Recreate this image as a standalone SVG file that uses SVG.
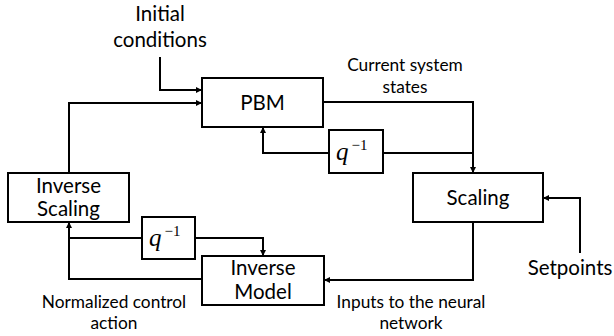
<svg xmlns="http://www.w3.org/2000/svg" width="614" height="336" viewBox="0 0 614 336">
  <style>
    .box { fill: #ffffff; stroke: #000000; stroke-width: 2; }
    .wire { fill: none; stroke: #000000; stroke-width: 2; }
    .lbl { font-family: Lato, "Open Sans", sans-serif; fill: #000000; text-anchor: middle; }
    .big { font-size: 20.5px; }
    .small { font-size: 17.3px; }
    .delay { font-family: "Liberation Serif", "DejaVu Serif", serif; font-style: italic; font-size: 25px; }
    .exp { font-family: "Liberation Serif", "DejaVu Serif", serif; font-size: 15px; font-style: normal; }
  </style>
  <defs>
    <marker id="arrow" viewBox="0 0 10 10" refX="10" refY="5" markerWidth="6" markerHeight="6" markerUnits="userSpaceOnUse" orient="auto">
      <path d="M0,0 L10,5 L0,10 z" fill="#000000"/>
    </marker>
  </defs>

  <!-- free-standing labels -->
  <text class="lbl big" x="160" y="21">Initial</text>
  <text class="lbl big" x="160" y="47">conditions</text>
  <text class="lbl small" x="405" y="71">Current system</text>
  <text class="lbl small" x="405" y="93">states</text>
  <text class="lbl big" x="570" y="275">Setpoints</text>
  <text class="lbl small" x="114" y="308">Normalized control</text>
  <text class="lbl small" x="114" y="329">action</text>
  <text class="lbl small" x="411" y="308">Inputs to the neural</text>
  <text class="lbl small" x="411" y="329">network</text>

  <!-- connectors -->
  <g id="connectors">
    <path class="wire" d="M160,57 V90 H202" marker-end="url(#arrow)"/>
    <path class="wire" d="M69,173 V103 H202" marker-end="url(#arrow)"/>
    <path class="wire" d="M323,102 H473 V173" marker-end="url(#arrow)"/>
    <path class="wire" d="M473,153 H383"/>
    <path class="wire" d="M329,153 H263 V127" marker-end="url(#arrow)"/>
    <path class="wire" d="M580,253 V198 H543" marker-end="url(#arrow)"/>
    <path class="wire" d="M473,222 V280 H324" marker-end="url(#arrow)"/>
    <path class="wire" d="M202,279 H69 V222" marker-end="url(#arrow)"/>
    <path class="wire" d="M69,238 H142"/>
    <path class="wire" d="M195,238 H263 V256" marker-end="url(#arrow)"/>
  </g>

  <!-- nodes -->
  <g id="pbm">
    <rect class="box" x="202" y="78" width="121" height="49"/>
    <text class="lbl big" x="262.5" y="110">PBM</text>
  </g>
  <g id="delay-top">
    <rect class="box" x="329" y="130" width="54" height="43"/>
    <text class="delay" x="336" y="160">q<tspan class="exp" dx="3" dy="-10">−1</tspan></text>
  </g>
  <g id="scaling">
    <rect class="box" x="413" y="173" width="130" height="49"/>
    <text class="lbl big" x="478" y="205">Scaling</text>
  </g>
  <g id="inverse-scaling">
    <rect class="box" x="8" y="173" width="121" height="49"/>
    <text class="lbl big" x="68.5" y="193">Inverse</text>
    <text class="lbl big" x="68.5" y="216">Scaling</text>
  </g>
  <g id="delay-bottom">
    <rect class="box" x="142" y="217" width="53" height="42"/>
    <text class="delay" x="149" y="246">q<tspan class="exp" dx="3" dy="-10">−1</tspan></text>
  </g>
  <g id="inverse-model">
    <rect class="box" x="202" y="256" width="122" height="49"/>
    <text class="lbl big" x="263" y="275">Inverse</text>
    <text class="lbl big" x="263" y="299">Model</text>
  </g>
</svg>
